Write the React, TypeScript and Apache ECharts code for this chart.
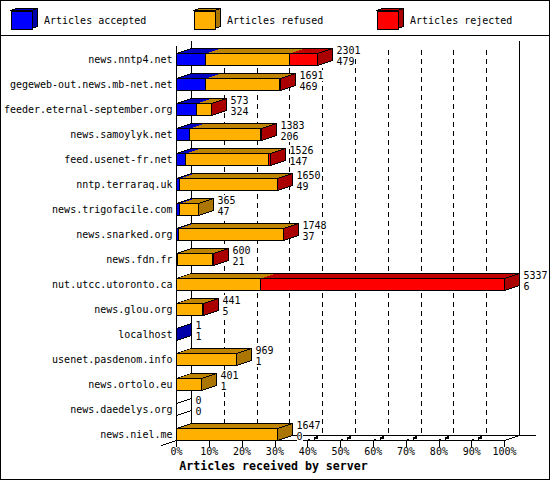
import React, { useEffect, useRef } from "react";
import * as echarts from "echarts";

const servers = ["news.nntp4.net","gegeweb-out.news.mb-net.net","feeder.eternal-september.org","news.samoylyk.net","feed.usenet-fr.net","nntp.terraraq.uk","news.trigofacile.com","news.snarked.org","news.fdn.fr","nut.utcc.utoronto.ca","news.glou.org","localhost","usenet.pasdenom.info","news.ortolo.eu","news.daedelys.org","news.niel.me"];
const totals = [2301,1691,573,1383,1526,1650,365,1748,600,5337,441,1,969,401,0,1647];
const accepted = [479,469,324,206,147,49,47,37,21,6,5,1,1,1,0,0];
const refused = [1354,1215,245,1162,1357,1590,318,1700,565,1356,420,0,968,400,0,1647];
const rejected = [468,7,4,15,22,11,0,11,14,3975,16,0,0,0,0,0];
const axisTicks = [0,10,20,30,40,50,60,70,80,90,100];

const names = ["Articles accepted","Articles refused","Articles rejected"];
const frontColors = ["#0000ff","#ffb000","#ff0000"];
const topColors = ["#0000c0","#bf8400","#c00000"];
const sideColors = ["#0000aa","#aa7500","#aa0000"];
const legendLefts = [10.5,193.5,376.5];

const MONO = '"DejaVu Sans Mono", monospace';
const DX = 15, DY = 5, HALF = 6;
const FLOOR = 440.5, BACK = 435.5, WALL_TOP = 40.5;
const maxTotal = Math.max(...totals);
const pct = (v: number) => (v / maxTotal) * 100;
const snap = (v: number) => Math.round(v - 0.5) + 0.5;
const layers = [accepted, refused, rejected];

function lineEl(x1: number, y1: number, x2: number, y2: number, dash?: number[]) {
  return {
    type: "line",
    shape: { x1, y1, x2, y2 },
    style: { stroke: "#000", lineWidth: 1, fill: "none", lineDash: dash },
  };
}

function poly(points: number[][], fill: string, stroke?: string) {
  return {
    type: "polygon",
    shape: { points },
    style: { fill, stroke: stroke || "none", lineWidth: 1 },
  };
}

function valueLabel(value: number, x: number, y: number) {
  return {
    type: "text",
    x,
    y,
    style: {
      text: String(value),
      font: `10px ${MONO}`,
      fill: "#000",
      backgroundColor: "#fff",
      lineHeight: 11,
      verticalAlign: "top",
      align: "left",
    },
  };
}

function renderWall(_p: any, api: any) {
  const tick = api.value(0);
  const x = snap(api.coord([tick, 0])[0]);
  const bx = x + DX;
  const kids: any[] = [];
  if (tick === 0) {
    kids.push(lineEl(x, 45.5, x, FLOOR));
    kids.push(lineEl(bx, WALL_TOP, bx, BACK));
    kids.push(lineEl(x - DX, FLOOR + DY, x, FLOOR));
  } else if (tick === 100) {
    kids.push(lineEl(bx, WALL_TOP, bx, BACK));
    kids.push(lineEl(x, FLOOR, bx, BACK));
    kids.push(lineEl(x - 300, BACK, bx + 16, BACK));
  } else {
    kids.push(lineEl(bx, 50, bx, BACK, [5, 4]));
    kids.push(lineEl(x, FLOOR, x + 3, FLOOR - 2));
    const s = poly([[x + 7, FLOOR - 2.5], [x + 10, FLOOR - 4], [x + 10, FLOOR - 2.5], [x + 7, FLOOR - 1.5]], "#000", "#000");
    kids.push(s);
  }
  return { type: "group", children: kids };
}

function makeRender(layer: number) {
  return (_p: any, api: any) => {
    const row = api.value(2);
    const start = api.value(0);
    const end = api.value(1);
    const yMid = api.coord([0, row])[1];
    const yT = snap(yMid - HALF);
    const yB = yT + HALF * 2;
    const x0 = snap(api.coord([start, row])[0]);
    const x1 = Math.max(x0, snap(api.coord([end, row])[0]));
    const kids: any[] = [];
    const values = layers.map((a) => a[row]);
    const empty = totals[row] === 0;
    const own = values[layer];
    const firstNonZero = values.findIndex((v) => v > 0);
    let lastNonZero = -1;
    values.forEach((v, i) => { if (v > 0) lastNonZero = i; });
    const visible = own > 0 || (empty && layer === 0);
    if (visible) {
      kids.push(poly([[x0, yT], [x0 + DX, yT - DY], [x1 + DX, yT - DY], [x1, yT]], topColors[layer]));
      kids.push(lineEl(x0 + DX, yT - DY, x1 + DX, yT - DY));
      if (layer === firstNonZero || empty) kids.push(lineEl(x0, yT, x0 + DX, yT - DY));
      kids.push({
        type: "rect",
        shape: { x: x0, y: yT, width: x1 - x0, height: yB - yT },
        style: { fill: frontColors[layer], stroke: "#000", lineWidth: 1 },
      });
      if (layer === lastNonZero || empty) {
        kids.push(poly([[x1, yT], [x1 + DX, yT - DY], [x1 + DX, yB - DY], [x1, yB]], empty ? "none" : sideColors[layer], "#000"));
      }
    }
    if (layer === 2) {
      kids.push(valueLabel(totals[row], x1 + DX + 4, yMid - 15));
      kids.push(valueLabel(accepted[row], x1 + DX + 4, yMid - 4));
    }
    return { type: "group", children: kids };
  };
}

function layerData(layer: number) {
  return servers.map((_, row) => {
    let before = 0;
    for (let i = 0; i < layer; i++) before += layers[i][row];
    return [pct(before), pct(before + layers[layer][row]), row];
  });
}

export default function App() {
  const ref = useRef<HTMLDivElement>(null);
  useEffect(() => {
    const chart = echarts.init(ref.current!, undefined, { renderer: "svg" });
    const swatchDepth: any[] = [];
    legendLefts.forEach((l, i) => {
      const r = l + 21;
      swatchDepth.push({ type: "polygon", shape: { points: [[l, 10.5], [l + 6, 8.5], [r + 6, 8.5], [r, 10.5]] }, style: { fill: topColors[i], stroke: "#000", lineWidth: 1 } });
      swatchDepth.push({ type: "polygon", shape: { points: [[r, 10.5], [r + 6, 8.5], [r + 6, 26.5], [r, 28.5]] }, style: { fill: sideColors[i], stroke: "#000", lineWidth: 1 } });
    });
    chart.setOption({
      animation: false,
      backgroundColor: "#ffffff",
      title: {
        text: "Articles received by server",
        left: 273.5,
        top: 460,
        textAlign: "center",
        padding: 0,
        textStyle: { fontFamily: MONO, fontSize: 11.6, fontWeight: "bold", color: "#000" },
      },
      legend: names.map((n, i) => ({
        data: [n],
        left: legendLefts[i],
        top: 10.5,
        padding: 0,
        itemWidth: 21,
        itemHeight: 18,
        icon: "rect",
        selectedMode: false,
        itemStyle: { borderColor: "#000", borderWidth: 1 },
        textStyle: { fontFamily: MONO, fontSize: 10, color: "#000", padding: [0, 0, 0, 7] },
      })),
      grid: { left: 176.5, right: 45.5, top: 47, bottom: 33 },
      xAxis: {
        type: "value",
        min: 0,
        max: 100,
        interval: 10,
        offset: -6.5,
        axisLine: { show: true, lineStyle: { color: "#000", width: 1 } },
        axisTick: { show: true, length: 6, lineStyle: { color: "#000", width: 1 } },
        splitLine: { show: false },
        axisLabel: { formatter: "{value}%", fontFamily: MONO, fontSize: 10, color: "#000", margin: 6 },
      },
      yAxis: {
        type: "category",
        inverse: true,
        data: servers,
        axisLine: { show: false },
        axisTick: { show: false },
        axisLabel: { fontFamily: MONO, fontSize: 10, color: "#000", margin: 4, interval: 0 },
      },
      graphic: [
        { type: "rect", shape: { x: 0.5, y: 0.5, width: 549, height: 478.5 }, style: { fill: "none", stroke: "#000", lineWidth: 1 } },
        { type: "line", shape: { x1: 0, y1: 35.5, x2: 550, y2: 35.5 }, style: { stroke: "#000", lineWidth: 1 } },
        ...swatchDepth,
      ],
      series: [
        {
          type: "custom",
          name: "walls",
          coordinateSystem: "cartesian2d",
          silent: true,
          renderItem: renderWall,
          encode: { x: 0 },
          data: axisTicks.map((t) => [t]),
        },
        ...names.map((n, i) => ({
          type: "custom",
          name: n,
          coordinateSystem: "cartesian2d",
          itemStyle: { color: frontColors[i] },
          renderItem: makeRender(i),
          encode: { x: [0, 1], y: 2 },
          data: layerData(i),
        })),
      ],
    });
    return () => chart.dispose();
  }, []);
  return (
    <div
      ref={ref}
      style={{ position: "fixed", left: 0, top: 0, width: 550, height: 480, background: "#fff", shapeRendering: "crispEdges" }}
    />
  );
}
